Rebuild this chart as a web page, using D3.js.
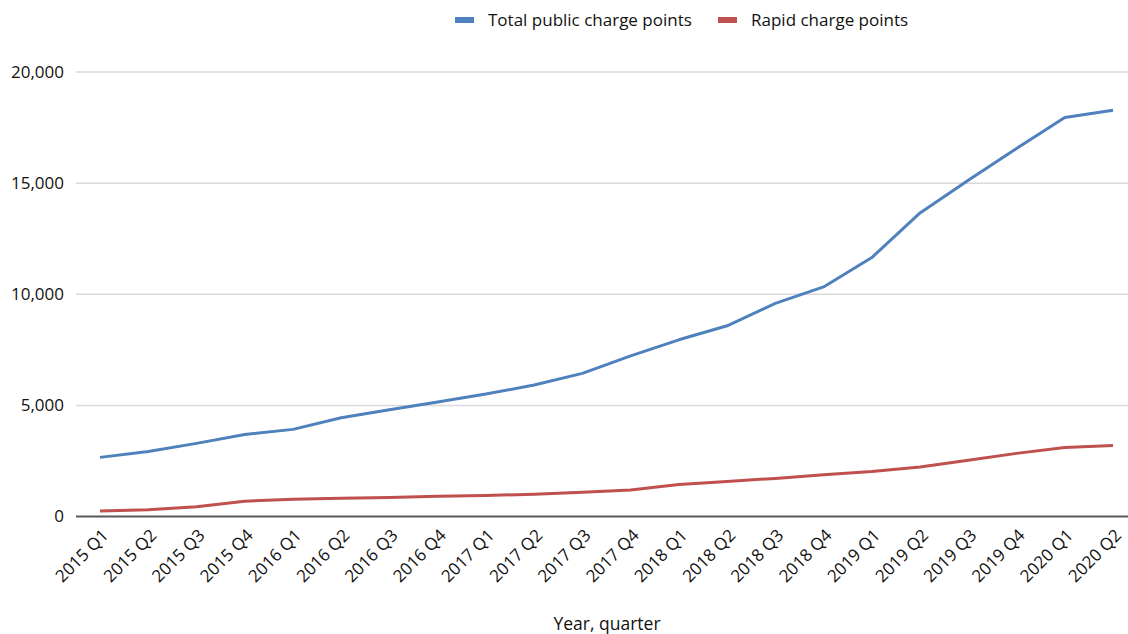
<!DOCTYPE html>
<html>
<head>
<meta charset="utf-8">
<script src="https://cdn.jsdelivr.net/npm/d3@7"></script>
<style>
  body { margin: 0; background: #fff; }
  svg { font-family: "Open Sans", "Noto Sans", sans-serif; }
</style>
</head>
<body>
<div id="chart"></div>
<script>
// quarters and charge point counts
var quarters = ["2015 Q1","2015 Q2","2015 Q3","2015 Q4","2016 Q1","2016 Q2","2016 Q3","2016 Q4",
    "2017 Q1","2017 Q2","2017 Q3","2017 Q4","2018 Q1","2018 Q2","2018 Q3","2018 Q4",
    "2019 Q1","2019 Q2","2019 Q3","2019 Q4","2020 Q1","2020 Q2"];

var totalPoints = [2660, 2920, 3290, 3690, 3920, 4440, 4800, 5150,
    5510, 5915, 6440, 7230, 7950, 8580, 9590, 10330,
    11650, 13660, 15130, 16560, 17950, 18280];

var rapidPoints = [250, 300, 440, 690, 780, 820, 860, 910,
    950, 1000, 1090, 1190, 1440, 1580, 1715, 1880,
    2030, 2230, 2530, 2840, 3100, 3200];

var yTicks = [0, 5000, 10000, 15000, 20000];

var seriesNames = ["Total public charge points", "Rapid charge points"];
var seriesColors = ["#4f81bd", "#c0504d"];

var W = 1128, H = 634;
var plotLeft = 76, plotRight = 1137;

var svg = d3.select("#chart").append("svg")
        .attr("width", W)
        .attr("height", H);

var x = d3.scalePoint()
        .domain(quarters)
        .range([100, 1113]);

var y = d3.scaleLinear()
        .domain([0, 20000])
        .range([516.5, 72]);

// gridlines
svg.append("g")
    .selectAll("line")
    .data(yTicks.slice(1))
    .enter().append("line")
        .attr("x1", plotLeft)
        .attr("x2", plotRight)
        .attr("y1", function(d) { return y(d); })
        .attr("y2", function(d) { return y(d); })
        .attr("stroke", "#d9d9d9")
        .attr("stroke-width", 1.5);

// y axis labels
var yAxis = d3.axisLeft(y)
        .tickValues(yTicks)
        .tickSize(0)
        .tickPadding(0)
        .tickFormat(d3.format(","));

svg.append("g")
    .attr("transform", "translate(64,0)")
    .call(yAxis)
    .call(function(g) { g.select(".domain").remove(); })
    .selectAll("text")
        .attr("font-size", 17)
        .attr("font-family", "Open Sans, sans-serif")
        .attr("fill", "#111");

// baseline
svg.append("line")
    .attr("x1", plotLeft)
    .attr("x2", plotRight)
    .attr("y1", y(0))
    .attr("y2", y(0))
    .attr("stroke", "#595959")
    .attr("stroke-width", 2);

// x labels, rotated
svg.append("g")
    .selectAll("text")
    .data(quarters)
    .enter().append("text")
        .attr("transform", function(d) { return "translate(" + (x(d) + 1) + ",528) rotate(-45)"; })
        .attr("text-anchor", "end")
        .attr("dy", "0.7em")
        .attr("font-size", 17)
        .attr("fill", "#111")
        .text(function(d) { return d; });

// lines
var line = d3.line()
        .x(function(d, i) { return x(quarters[i]); })
        .y(function(d) { return y(d); });

[totalPoints, rapidPoints].forEach(function(vals, i) {
    svg.append("path")
        .datum(vals)
        .attr("fill", "none")
        .attr("stroke", seriesColors[i])
        .attr("stroke-width", 3)
        .attr("stroke-linejoin", "round")
        .attr("d", line);
});

// legend
var legendX = [455, 718];
var legend = svg.append("g");
seriesNames.forEach(function(name, i) {
    legend.append("rect")
        .attr("x", legendX[i])
        .attr("y", 17)
        .attr("width", 19)
        .attr("height", 6)
        .attr("fill", seriesColors[i]);
    legend.append("text")
        .attr("x", legendX[i] + 33)
        .attr("y", 20)
        .attr("dy", "0.35em")
        .attr("font-size", 17)
        .attr("fill", "#111")
        .text(name);
});

// x axis title
svg.append("text")
    .attr("x", 607)
    .attr("y", 624)
    .attr("dy", "0.35em")
    .attr("text-anchor", "middle")
    .attr("font-size", 17.5)
    .attr("fill", "#111")
    .text("Year, quarter");
</script>
</body>
</html>
